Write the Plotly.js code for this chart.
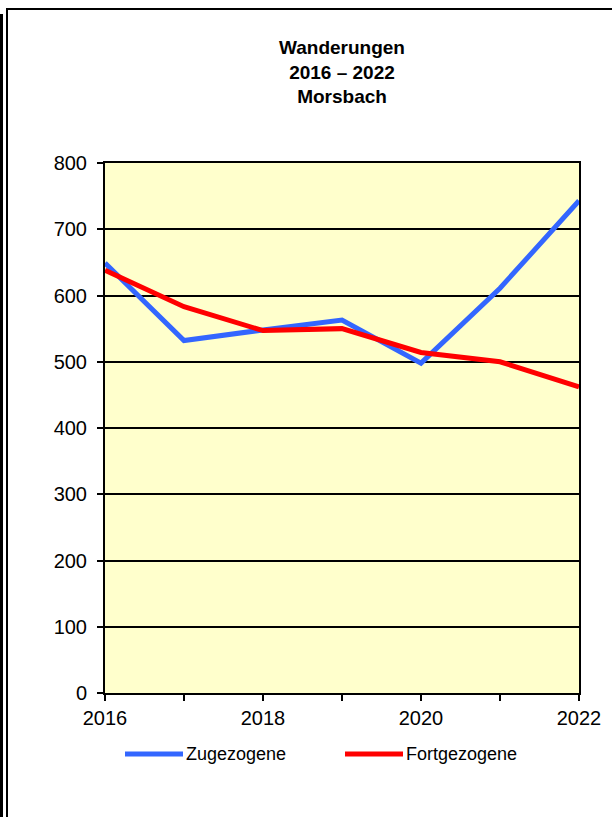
<!DOCTYPE html>
<html>
<head>
<meta charset="utf-8">
<script src="https://cdn.plot.ly/plotly-3.0.1.min.js"></script>
<style>
  html, body { margin: 0; padding: 0; background: #ffffff; }
  #wrap { position: relative; width: 612px; height: 817px; overflow: hidden; }
  #bar { position: absolute; left: 0; top: 14px; width: 3px; height: 803px; background: #000; }
  #frame { position: absolute; left: 6px; top: 8px; width: 620px; height: 830px;
           border-left: 2px solid #000; border-top: 2px solid #000; }
  #chart { position: absolute; left: 0; top: 0; width: 612px; height: 817px; }
</style>
</head>
<body>
<div id="wrap">
  <div id="bar"></div>
  <div id="frame"></div>
  <div id="chart"></div>
</div>
<script>
const years = [2016, 2017, 2018, 2019, 2020, 2021, 2022];
const zugezogene = [649, 532, 548, 563, 498, 611, 743];
const fortgezogene = [638, 583, 547, 550, 514, 500, 462];
const xTickVals = [2016, 2017, 2018, 2019, 2020, 2021, 2022];
const xTickText = ['2016', '', '2018', '', '2020', '', '2022'];
const seriesNames = ['Zugezogene', 'Fortgezogene'];
const seriesColors = ['#3366FF', '#FF0000'];

const FONT = 'Liberation Sans, Arial, Helvetica, sans-serif';
const L = 105, R = 579, T = 163, B = 693, W = 612, H = 817;
const px = x => (x - L) / (R - L);
const py = y => (B - y) / (B - T);

const traces = [zugezogene, fortgezogene].map((vals, i) => ({
  x: years, y: vals, type: 'scatter', mode: 'lines', name: seriesNames[i],
  line: { color: seriesColors[i], width: 5 }, showlegend: false, cliponaxis: false
}));

// custom legend (long line symbols)
const legendItems = [
  { x0: 125, x1: 183, tx: 184 },
  { x0: 345, x1: 403, tx: 404 }
];
const shapes = legendItems.map((it, i) => ({
  type: 'line', xref: 'paper', yref: 'paper',
  x0: px(it.x0), x1: px(it.x1), y0: py(754), y1: py(754),
  line: { color: seriesColors[i], width: 5 }
}));
const annotations = legendItems.map((it, i) => ({
  xref: 'paper', yref: 'paper', x: px(it.tx), y: py(754),
  xanchor: 'left', yanchor: 'middle', showarrow: false,
  text: seriesNames[i], font: { family: FONT, size: 18, color: '#000' }
}));

const layout = {
  width: W, height: H,
  margin: { l: L, r: W - R, t: T, b: H - B, pad: 0 },
  paper_bgcolor: 'rgba(0,0,0,0)',
  plot_bgcolor: '#FFFFCC',
  font: { family: FONT, color: '#000' },
  title: {
    text: '<b>Wanderungen<br>2016 – 2022<br>Morsbach</b>',
    font: { family: FONT, size: 19, color: '#000' },
    xref: 'paper', x: 0.5, xanchor: 'center',
    yref: 'container', y: 1 - 54 / H, yanchor: 'top'
  },
  xaxis: {
    range: [2016, 2022], tickvals: xTickVals, ticktext: xTickText,
    showgrid: false, zeroline: false,
    showline: true, linecolor: '#000', linewidth: 2, mirror: true,
    ticks: 'outside', ticklen: 6, tickwidth: 2, tickcolor: '#000',
    tickfont: { family: FONT, size: 20, color: '#000' }
  },
  yaxis: {
    range: [0, 800], dtick: 100, tick0: 0,
    showgrid: true, gridcolor: '#000', gridwidth: 2, zeroline: false,
    showline: true, linecolor: '#000', linewidth: 2, mirror: true,
    ticks: 'outside', ticklen: 6, tickwidth: 2, tickcolor: '#000',
    ticklabelstandoff: 6,
    tickfont: { family: FONT, size: 20, color: '#000' }
  },
  shapes: shapes,
  annotations: annotations
};

Plotly.newPlot('chart', traces, layout, { displayModeBar: false, staticPlot: true });
</script>
</body>
</html>
